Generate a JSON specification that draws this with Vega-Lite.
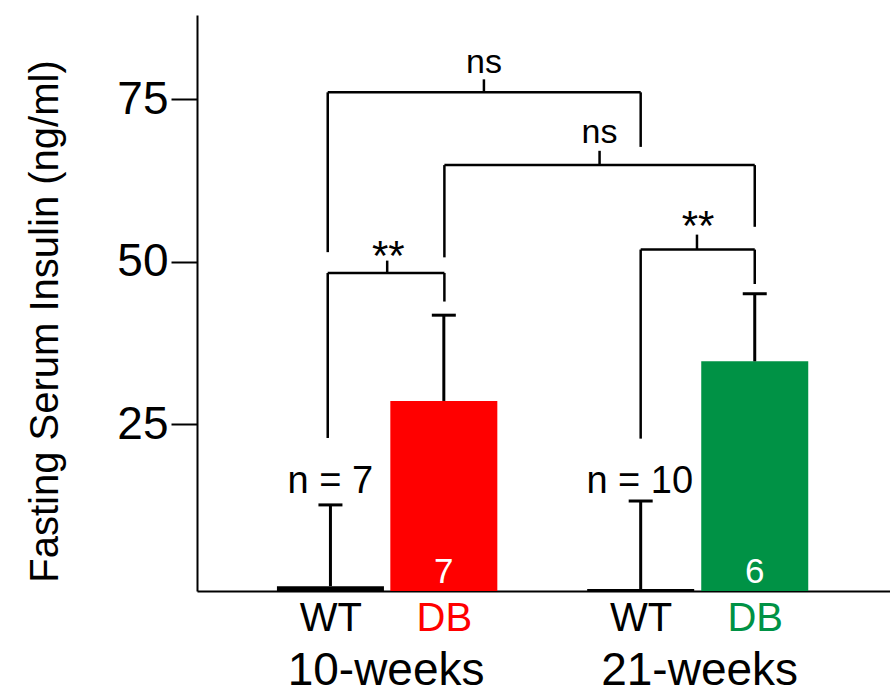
{
  "$schema": "https://vega.github.io/schema/vega-lite/v6.json",
  "width": 693,
  "height": 576,
  "autosize": "none",
  "padding": {"left": 197, "top": 15, "right": 0, "bottom": 103},
  "background": "white",
  "config": {
    "view": {"stroke": null},
    "font": "Liberation Sans",
    "axis": {"grid": false}
  },
  "datasets": {
    "bars": [
      {"key": "WT10", "group": "10-weeks", "genotype": "WT", "x": 1.134, "mean": 0.1, "upper": 12.6},
      {"key": "DB10", "group": "10-weeks", "genotype": "DB", "x": 2.135, "mean": 28.6, "upper": 41.8},
      {"key": "WT21", "group": "21-weeks", "genotype": "WT", "x": 3.873, "mean": -0.35, "upper": 13.2},
      {"key": "DB21", "group": "21-weeks", "genotype": "DB", "x": 4.88, "mean": 34.7, "upper": 45.1}
    ],
    "lines": [
      {"x": 1.11, "x2": 1.11, "y": 22.9, "y2": 48.3},
      {"x": 1.11, "x2": 2.14, "y": 48.3, "y2": 48.3},
      {"x": 2.14, "x2": 2.14, "y": 43.9, "y2": 48.3},
      {"x": 1.635, "x2": 1.635, "y": 48.3, "y2": 50.2},
      {"x": 1.11, "x2": 1.11, "y": 51.5, "y2": 76.1},
      {"x": 1.11, "x2": 3.873, "y": 76.1, "y2": 76.1},
      {"x": 3.873, "x2": 3.873, "y": 67.7, "y2": 76.1},
      {"x": 2.489, "x2": 2.489, "y": 76.1, "y2": 78.1},
      {"x": 2.14, "x2": 2.14, "y": 50.7, "y2": 64.9},
      {"x": 2.14, "x2": 4.88, "y": 64.9, "y2": 64.9},
      {"x": 4.88, "x2": 4.88, "y": 55.4, "y2": 64.9},
      {"x": 3.51, "x2": 3.51, "y": 64.9, "y2": 67.1},
      {"x": 3.873, "x2": 3.873, "y": 22.8, "y2": 51.9},
      {"x": 3.873, "x2": 4.88, "y": 51.9, "y2": 51.9},
      {"x": 4.88, "x2": 4.88, "y": 46.6, "y2": 51.9},
      {"x": 4.37, "x2": 4.37, "y": 51.9, "y2": 54.2}
    ],
    "texts": [
      {"kind": "n", "x": 1.132, "y": 14.4, "t": "n = 7"},
      {"kind": "n", "x": 3.865, "y": 14.5, "t": "n = 10"},
      {"kind": "count", "x": 2.135, "y": 0.65, "t": "7"},
      {"kind": "count", "x": 4.88, "y": 0.6, "t": "6"},
      {"kind": "star", "x": 1.645, "y": 48.7, "t": "**"},
      {"kind": "star", "x": 4.38, "y": 53.3, "t": "**"},
      {"kind": "ns", "x": 2.489, "y": 79.0, "t": "ns"},
      {"kind": "ns", "x": 3.51, "y": 68.3, "t": "ns"}
    ],
    "groups": [
      {"group": "10-weeks", "gx": 1.621},
      {"group": "21-weeks", "gx": 4.389}
    ]
  },
  "layer": [
    {
      "data": {"name": "bars"},
      "mark": {"type": "bar", "size": 107, "opacity": 1},
      "encoding": {
        "x": {
          "field": "x", "type": "quantitative",
          "scale": {"domain": [0, 6.03], "nice": false, "zero": false},
          "axis": {
            "title": null,
            "values": [1.134, 2.135, 3.873, 4.88],
            "labelExpr": "datum.value < 1.5 ? 'WT' : datum.value < 3 ? 'DB' : datum.value < 4.5 ? 'WT' : 'DB'",
            "labelColor": {"expr": "datum.value > 2 && datum.value < 3 ? '#ff0000' : datum.value > 4.5 ? '#009245' : '#000000'"},
            "labelFontSize": 40,
            "labelPadding": 7,
            "labelFlush": false,
            "labelOverlap": false,
            "labelLimit": 0,
            "ticks": false,
            "domainColor": "black",
            "domainWidth": 2
          }
        },
        "y": {
          "field": "mean", "type": "quantitative",
          "scale": {"domain": [-0.65, 88], "nice": false, "zero": false},
          "axis": {
            "title": "Fasting Serum Insulin (ng/ml)",
            "values": [25, 50, 75],
            "tickSize": 26,
            "tickWidth": 2,
            "tickColor": "black",
            "domainColor": "black",
            "domainWidth": 2,
            "labelFontSize": 46,
            "labelColor": "black",
            "labelPadding": 3,
            "titleFontSize": 40,
            "titleFontWeight": "normal",
            "titleColor": "black",
            "titleX": -152,
            "titleY": 306,
            "titleBaseline": "middle"
          }
        },
        "y2": {"datum": -0.65},
        "color": {
          "field": "key", "type": "nominal",
          "scale": {"domain": ["WT10", "DB10", "WT21", "DB21"], "range": ["#000000", "#ff0000", "#000000", "#009245"]},
          "legend": null
        }
      }
    },
    {
      "data": {"name": "bars"},
      "mark": {"type": "rule", "strokeWidth": 3, "color": "black", "opacity": 1},
      "encoding": {
        "x": {"field": "x", "type": "quantitative", "axis": null},
        "y": {"field": "mean", "type": "quantitative"},
        "y2": {"field": "upper"}
      }
    },
    {
      "data": {"name": "bars"},
      "mark": {"type": "tick", "orient": "horizontal", "size": 24, "thickness": 3, "color": "black", "opacity": 1},
      "encoding": {
        "x": {"field": "x", "type": "quantitative", "axis": null},
        "y": {"field": "upper", "type": "quantitative"}
      }
    },
    {
      "data": {"name": "lines"},
      "mark": {"type": "rule", "strokeWidth": 2.5, "color": "black", "opacity": 1},
      "encoding": {
        "x": {"field": "x", "type": "quantitative", "axis": null},
        "x2": {"field": "x2"},
        "y": {"field": "y", "type": "quantitative"},
        "y2": {"field": "y2"}
      }
    },
    {
      "data": {"name": "texts"},
      "transform": [{"filter": "datum.kind === 'n'"}],
      "mark": {"type": "text", "fontSize": 38, "align": "center", "baseline": "alphabetic", "color": "black"},
      "encoding": {
        "x": {"field": "x", "type": "quantitative", "axis": null},
        "y": {"field": "y", "type": "quantitative"},
        "text": {"field": "t"}
      }
    },
    {
      "data": {"name": "texts"},
      "transform": [{"filter": "datum.kind === 'count'"}],
      "mark": {"type": "text", "fontSize": 35, "align": "center", "baseline": "alphabetic", "color": "white"},
      "encoding": {
        "x": {"field": "x", "type": "quantitative", "axis": null},
        "y": {"field": "y", "type": "quantitative"},
        "text": {"field": "t"}
      }
    },
    {
      "data": {"name": "texts"},
      "transform": [{"filter": "datum.kind === 'star'"}],
      "mark": {"type": "text", "fontSize": 42, "align": "center", "baseline": "alphabetic", "color": "black"},
      "encoding": {
        "x": {"field": "x", "type": "quantitative", "axis": null},
        "y": {"field": "y", "type": "quantitative"},
        "text": {"field": "t"}
      }
    },
    {
      "data": {"name": "texts"},
      "transform": [{"filter": "datum.kind === 'ns'"}],
      "mark": {"type": "text", "fontSize": 34, "align": "center", "baseline": "alphabetic", "color": "black"},
      "encoding": {
        "x": {"field": "x", "type": "quantitative", "axis": null},
        "y": {"field": "y", "type": "quantitative"},
        "text": {"field": "t"}
      }
    },
    {
      "data": {"name": "groups"},
      "mark": {"type": "point", "opacity": 0},
      "encoding": {
        "x": {
          "field": "gx", "type": "quantitative",
          "axis": {
            "orient": "bottom",
            "title": null,
            "values": [1.621, 4.389],
            "labelExpr": "datum.value < 3 ? '10-weeks' : '21-weeks'",
            "labelFontSize": 46,
            "labelColor": "black",
            "labelPadding": 57,
            "labelFlush": false,
            "labelOverlap": false,
            "labelLimit": 0,
            "domain": false,
            "ticks": false
          }
        }
      }
    }
  ],
  "resolve": {"axis": {"x": "independent"}}
}
